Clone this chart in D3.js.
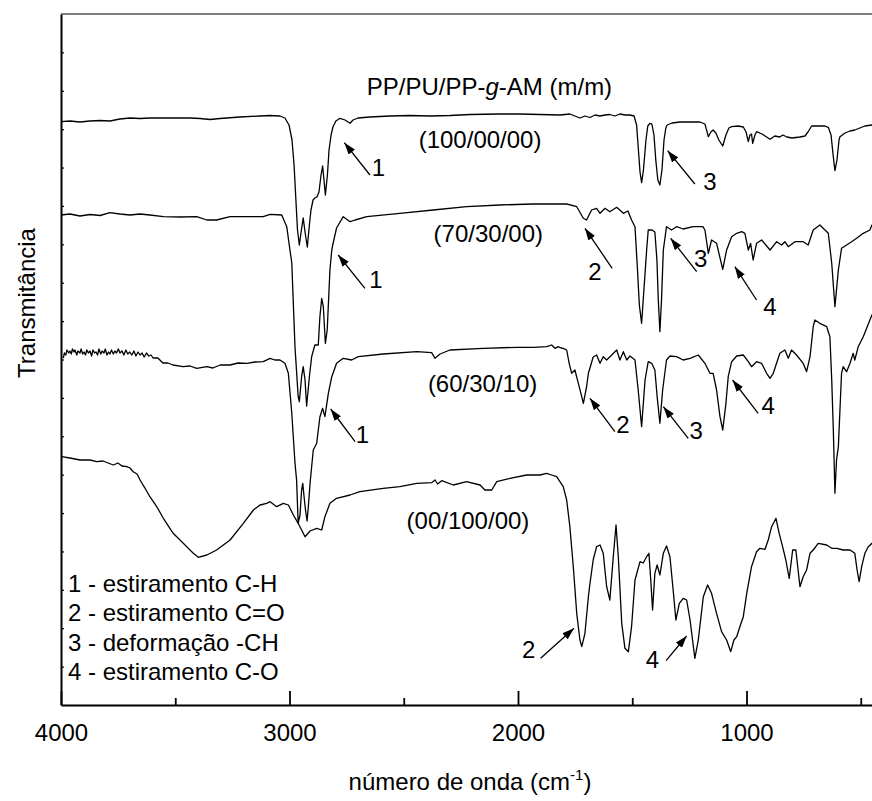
<!DOCTYPE html>
<html>
<head>
<meta charset="utf-8">
<script src="https://cdn.jsdelivr.net/npm/d3@7"></script>
<style>
  body { margin: 0; background: #fff; }
  svg { display: block; font-family: "Liberation Sans", Arial, sans-serif; }
  .spectrum { fill: none; stroke: #000; stroke-width: 1.3; stroke-linejoin: round; }
  .axis path, .axis line { stroke: #000; }
  text { fill: #000; font-size: 24px; }
</style>
</head>
<body>
<svg id="chart"></svg>
<script>
// spectra: [wavenumber (cm-1), transmittance (u.a., stacked)]
const pp100 = [
  [4000,583.3],[3961,584],[3917,583],[3873,584],[3829,584.5],[3786,584],[3742,586],[3698,587],[3654,586.5],
  [3611,587],[3523,587],[3435,587],[3392,586.5],[3348,585.5],[3304,586.5],[3217,588],[3129,589],[3085,589.5],
  [3042,589],[3020,587],[3002,580],[2989,565],[2980,540],[2972,505],[2965,475],[2957,460],[2948,475],[2940,487],
  [2932,473],[2922,458],[2913,480],[2906,495],[2897,505],[2889,507],[2880,508],[2871,513],[2862,530],[2855,539],
  [2849,525],[2843,510],[2834,530],[2827,555],[2818,570],[2810,578],[2797,584],[2779,586.7],[2757,585],[2735,581.7],
  [2722,585],[2700,587],[2648,588],[2560,589],[2473,589.5],[2385,589],[2298,589.5],[2210,590.5],[2079,591],
  [1991,591],[1904,590.5],[1816,590],[1773,591],[1751,589],[1729,587],[1707,589],[1685,587.5],[1663,590],
  [1641,589],[1619,590],[1598,590.5],[1576,589],[1554,591],[1532,590],[1510,590],[1492,589],[1481,580],
  [1473,555],[1466,533],[1459,522.3],[1451,535],[1440,565],[1432,579],[1423,581.7],[1414,581],[1405,570],
  [1397,545],[1388,525],[1379,520],[1370,535],[1361,565],[1353,577],[1347,580],[1326,582],[1291,583],[1247,583],
  [1204,583],[1182,581],[1167,568.3],[1156,573],[1146,575],[1134,572],[1121,565],[1104,559],[1090,570],[1077,577],
  [1065,578.3],[1037,579],[1014,578],[1002,573],[992,563.3],[985,570],[978,571],[973,561.7],[963,570],[956,573.3],
  [932,571],[897,565.7],[876,569],[854,568],[841,570],[823,568],[801,567],[766,568],[744,569],[731,573],[715,579],
  [687,579],[657,579],[642,577.7],[630,570],[621,550],[613,534.3],[604,545],[595,565],[591,568.3],[569,572],
  [547,574],[526,575],[504,577],[482,579],[451,580],[420,581]
];

const pp70 = [
  [4000,490],[3961,491],[3917,489],[3873,490.5],[3829,489.5],[3786,492.3],[3742,491],[3698,490],[3654,491],
  [3611,490],[3552,488.3],[3479,488],[3406,488.3],[3362,485],[3319,485],[3260,488.3],[3173,488.3],[3115,488.3],
  [3085,490.7],[3034,490],[3012,478.3],[2998,455],[2990,442],[2976,358.3],[2962,308.3],[2957,303.3],[2947,328.3],
  [2940,338.3],[2932,325],[2925,299],[2913,328.3],[2903,348.3],[2889,360],[2874,360],[2867,388.3],[2859,406.7],
  [2852,398.3],[2843,361.7],[2835,375],[2827,415],[2823,435],[2815,455],[2808,463],[2794,477],[2765,488.3],
  [2735,483.3],[2713,485],[2662,488.3],[2517,491.7],[2371,495],[2225,498.3],[2079,500],[1933,501],[1787,501],
  [1743,498.3],[1714,486.7],[1700,485],[1678,495],[1656,496.7],[1641,491.7],[1619,496.7],[1598,493.3],
  [1568,497.7],[1539,491.7],[1519,494],[1503,485],[1488,478.3],[1477,435],[1469,400],[1459,381.7],[1449,415],
  [1437,455],[1430,475],[1414,475],[1401,473],[1392,445],[1386,405],[1379,373.3],[1372,405],[1364,455],
  [1350,478.3],[1328,475],[1306,478.3],[1277,476],[1234,478.3],[1191,478.3],[1182,475],[1167,451.7],[1153,465],
  [1131,461.7],[1104,435.7],[1087,455],[1065,468.3],[1043,471.7],[1021,473.3],[1007,471.7],[992,455],[982,461.7],
  [971,445],[956,461.7],[934,465],[897,455],[868,463.3],[846,460],[832,463.3],[817,458.3],[788,463.3],[752,463.3],
  [730,460],[708,475],[679,480],[642,471.7],[627,441.7],[613,398.3],[598,435],[584,456.7],[562,460],[540,463.3],
  [518,466.7],[489,471.7],[460,475],[451,480],[420,484]
];

const pp60 = [
  [3990,347],[3985,352],[3979,350],[3974,355],[3966,352],[3961,354],[3955,351],[3950,356],[3943,353],[3939,355],
  [3931,350],[3926,354],[3917,352],[3912,356],[3905,351],[3899,353],[3893,350],[3887,355],[3880,352],[3873,354],
  [3866,349],[3860,355],[3853,352],[3847,353],[3840,350],[3834,356],[3826,351],[3820,354],[3812,352],[3806,356],
  [3799,350],[3792,353],[3786,351],[3779,355],[3771,351],[3764,354],[3757,352],[3749,356],[3742,352],[3733,354],
  [3725,350],[3716,355],[3708,351],[3699,353],[3690,350],[3681,354],[3672,349],[3663,353],[3654,350],[3645,352],
  [3636,348],[3626,352],[3616,349],[3606,350],[3597,347],[3576,347],[3554,342],[3532,342],[3510,340],[3466,338.3],
  [3435,339],[3406,336.7],[3362,338.3],[3335,337],
  [3304,340],[3260,340],[3225,342],[3187,341.7],[3151,343],[3115,343.3],[3085,346.7],[3064,345],[3042,345],
  [3020,341.7],[3005,331.7],[2990,291.7],[2976,242],[2969,225],[2962,181.7],[2954,190],[2947,215],[2942,221.7],
  [2937,210],[2930,195],[2923,184],[2917,200],[2910,221.7],[2896,255],[2881,261.7],[2874,275],[2867,288],
  [2855,296.7],[2845,288.3],[2830,311.7],[2815,328.3],[2794,341.7],[2765,346.7],[2728,345],[2699,348.3],
  [2590,351],[2443,353.3],[2378,352.3],[2363,346.7],[2352,349],[2341,351],[2298,355],[2152,356.7],[2006,357.7],
  [1933,357.7],[1875,358.3],[1853,360],[1838,356.7],[1824,358.3],[1812,357],[1802,356.7],[1787,355],[1776,341.7],
  [1765,331.7],[1751,335],[1736,321.7],[1721,308.3],[1714,301.7],[1700,318],[1692,331.7],[1685,337],[1671,348],
  [1656,350],[1641,341.7],[1627,348.3],[1612,345],[1590,350],[1568,355],[1554,345],[1539,353.3],[1524,345],
  [1510,349],[1488,345],[1474,315],[1459,278.3],[1444,325],[1430,343.3],[1415,341.7],[1401,335],[1391,308.3],
  [1379,281.7],[1367,315],[1350,345],[1335,349],[1306,348.3],[1277,345],[1247,346.7],[1211,350],[1182,341.7],
  [1160,331.7],[1146,331.7],[1131,315],[1116,288.3],[1104,275],[1090,301.7],[1080,328.3],[1065,343.3],[1043,349],
  [1014,350],[992,343.3],[978,338.3],[956,343.3],[934,341.7],[912,331.7],[897,326.7],[883,331.7],[854,351.7],
  [832,355],[817,346.7],[803,355],[781,350],[752,341.7],[737,333.3],[722,348.3],[708,378.3],[701,385],[679,381.7],
  [649,378.3],[635,368.3],[627,325],[620,275],[613,211.7],[606,245],[598,258.3],[591,295],[584,331.7],[577,338.3],
  [562,333.3],[547,341.7],[533,351.7],[526,345],[511,358.3],[489,368.3],[460,385],[451,390],[420,398]
];

const pu100 = [
  [3997,248.3],[3961,247],[3917,245],[3873,245],[3844,243.3],[3816,244],[3794,242],[3771,240],[3751,242],
  [3733,239],[3712,238.3],[3698,237],[3684,233.3],[3667,231],[3654,225],[3632,216.7],[3611,208.3],[3581,198.3],
  [3552,186.7],[3509,171.7],[3465,161.7],[3421,151.7],[3399,147.7],[3362,150],[3319,155],[3260,165],[3202,181.7],
  [3158,195],[3129,200],[3100,201.7],[3085,203.3],[3056,198.3],[3027,201.7],[3005,200],[2983,190],[2962,181.7],
  [2947,175],[2932,168.3],[2910,174],[2881,176.7],[2859,175],[2845,188.3],[2823,201.7],[2794,206.7],[2735,210],
  [2692,213.3],[2590,216.7],[2517,218.3],[2443,221.7],[2378,222.3],[2363,225],[2352,221],[2334,224.3],[2283,220],
  [2225,223.3],[2166,220],[2145,215],[2115,215],[2093,223.3],[2035,226.7],[1962,230],[1904,230],[1875,231.7],
  [1853,230],[1831,228.3],[1802,218.3],[1787,205],[1773,178.3],[1758,138.3],[1743,91.7],[1729,65],[1721,58.3],
  [1707,71.7],[1692,108.3],[1685,121.7],[1671,145],[1656,158.3],[1641,160],[1627,151.7],[1612,118.3],[1598,105],
  [1583,148.3],[1571,180],[1561,148.3],[1546,81.7],[1532,56.7],[1517,53.3],[1503,78.3],[1488,125],[1466,143.3],
  [1452,142],[1437,148.3],[1427,151.7],[1419,125],[1411,95],[1401,131.7],[1391,140],[1379,130],[1364,151.7],
  [1350,159],[1335,148.3],[1321,115],[1309,85],[1294,101.7],[1277,106.7],[1262,105],[1247,85],[1226,46.7],
  [1211,65],[1189,108.3],[1170,120],[1153,111.7],[1131,91.7],[1109,73.3],[1087,65],[1069,53.3],[1055,65],
  [1043,68.3],[1029,78.3],[1014,88.3],[999,111.7],[978,138.3],[956,153.3],[941,156.7],[919,155.7],[905,165],
  [890,178.3],[871,186.7],[857,171.7],[842,158.3],[828,145],[813,126.7],[798,155],[784,155],[766,118.3],
  [752,128.3],[737,135],[722,151.7],[708,155],[686,161.7],[649,160],[627,156.7],[604,156.7],[577,155],[547,155],
  [526,151.7],[516,135],[507,123.3],[496,138.3],[482,151.7],[467,158.3],[451,161.7],[420,164]
];

const spectra = [pp100, pp70, pp60, pu100];

// sample labels: text, [wavenumber, value] of text centre baseline
const sampleNames = ['(100/00/00)', '(70/30/00)', '(60/30/10)', '(00/100/00)'];
const samplePos = [[2166, 556.7], [2130, 463.3], [2155, 313.3], [2219, 175.7]];

// band arrows: label, tail, tip, label position (all [wavenumber, value])
const bandLabels = ['1', '3', '1', '2', '3', '4', '1', '2', '3', '4', '2', '4'];
const bandTails = [[2648,530],[1226,521],[2670,416.7],[1588,436.7],[1218,433.3],[956,405],
  [2713,263.3],[1576,273.3],[1255,266.7],[949,291.7],[1901,46.7],[1352,44.3]];
const bandTips = [[2760,562.3],[1345,554.3],[2787,450],[1707,476.7],[1332,466.7],[1051,438.3],
  [2820,296],[1685,306.7],[1364,298.3],[1061,325],[1755,76.7],[1262,69]];
const bandTextPos = [[2611,529],[1160,515],[2622,416.7],[1663,425],[1200,438.3],[897,390],
  [2681,261.7],[1541,271.7],[1220,265.7],[905,291],[1953,46.7],[1412,36.7]];

const legendLines = ['1 - estiramento C-H', '2 - estiramento C=O', '3 - deformação -CH', '4 - estiramento C-O'];

const xMajorTicks = [4000, 3000, 2000, 1000];
const xMinorTicks = [3500, 2500, 1500, 500];
const yMax = 691;
const yDivisions = 18;

const width = 872, height = 801;
const margin = { top: 14, left: 61, bottom: 96 };
const plotBottom = height - margin.bottom;

const svg = d3.select('#chart').attr('width', width).attr('height', height);

const x = d3.scaleLinear().domain([4000, 400]).range([margin.left, margin.left + 3600 * 0.2285]);
const y = d3.scaleLinear().domain([0, yMax]).range([plotBottom, margin.top]);

const defs = svg.append('defs');
defs.append('clipPath').attr('id', 'plotClip')
  .append('rect').attr('x', margin.left).attr('y', margin.top)
  .attr('width', x(400) - margin.left).attr('height', plotBottom - margin.top);
defs.append('marker').attr('id', 'head')
  .attr('viewBox', '0 0 12 8').attr('refX', 12).attr('refY', 4)
  .attr('markerWidth', 12).attr('markerHeight', 8)
  .attr('markerUnits', 'userSpaceOnUse').attr('orient', 'auto')
  .append('path').attr('d', 'M0,0L12,4L0,8Z').attr('fill', '#000');

// top frame line
svg.append('line')
  .attr('x1', margin.left).attr('x2', width)
  .attr('y1', y(yMax)).attr('y2', y(yMax))
  .attr('stroke', '#000').attr('stroke-width', 1);

// axes
const xAxis = d3.axisBottom(x).tickValues(xMajorTicks).tickSize(-14).tickSizeOuter(0)
  .tickPadding(19).tickFormat(d3.format('d'));
const xAxisG = svg.append('g').attr('class', 'axis').attr('transform', `translate(0,${plotBottom})`).call(xAxis);
xAxisG.select('.domain').attr('stroke-width', 2);
xAxisG.selectAll('.tick line').attr('stroke-width', 1.8);
xAxisG.selectAll('text').attr('font-size', 24).attr('font-family', '"Liberation Sans", Arial, sans-serif');

const xMinor = d3.axisBottom(x).tickValues(xMinorTicks).tickSize(-7).tickFormat('');
const xMinorG = svg.append('g').attr('class', 'axis').attr('transform', `translate(0,${plotBottom})`).call(xMinor);
xMinorG.select('.domain').remove();
xMinorG.selectAll('.tick line').attr('stroke-width', 1.8);

const yTicks = d3.range(1, yDivisions).map(i => i * yMax / yDivisions);
const yAxis = d3.axisLeft(y).tickValues(yTicks).tickSize(-3).tickSizeOuter(0).tickFormat('');
const yAxisG = svg.append('g').attr('class', 'axis').attr('transform', `translate(${margin.left},0)`).call(yAxis);
yAxisG.select('.domain').attr('stroke-width', 2);
yAxisG.selectAll('.tick line').attr('stroke-width', 1.2);

// spectra
const line = d3.line().x(d => x(d[0])).y(d => y(d[1]));
svg.append('g').attr('clip-path', 'url(#plotClip)')
  .selectAll('path').data(spectra).join('path')
  .attr('class', 'spectrum').attr('d', line);

// title
const title = svg.append('text').attr('x', x(2125)).attr('y', y(610)).attr('text-anchor', 'middle');
title.append('tspan').text('PP/PU/PP-');
title.append('tspan').attr('font-style', 'italic').text('g');
title.append('tspan').text('-AM (m/m)');

// sample names
svg.append('g').selectAll('text').data(sampleNames).join('text')
  .attr('x', (d, i) => x(samplePos[i][0])).attr('y', (d, i) => y(samplePos[i][1]))
  .attr('text-anchor', 'middle').text(d => d);

// band arrows
const arrows = svg.append('g');
arrows.selectAll('line').data(bandLabels).join('line')
  .attr('x1', (d, i) => x(bandTails[i][0])).attr('y1', (d, i) => y(bandTails[i][1]))
  .attr('x2', (d, i) => x(bandTips[i][0])).attr('y2', (d, i) => y(bandTips[i][1]))
  .attr('stroke', '#000').attr('stroke-width', 1.3).attr('marker-end', 'url(#head)');
arrows.selectAll('text').data(bandLabels).join('text')
  .attr('x', (d, i) => x(bandTextPos[i][0])).attr('y', (d, i) => y(bandTextPos[i][1]))
  .attr('text-anchor', 'middle').text(d => d);

// legend
svg.append('g').selectAll('text').data(legendLines).join('text')
  .attr('x', margin.left + 7).attr('y', (d, i) => plotBottom - 113.3 + i * 29.4)
  .text(d => d);

// axis titles
const xTitle = svg.append('text').attr('x', 470).attr('y', 790).attr('text-anchor', 'middle');
xTitle.append('tspan').text('número de onda (cm');
xTitle.append('tspan').attr('font-size', 15).attr('dy', -10).text('-1');
xTitle.append('tspan').attr('dy', 10).text(')');

svg.append('text')
  .attr('transform', `translate(35,${y(402)}) rotate(-90)`)
  .attr('text-anchor', 'middle').attr('font-size', 26).text('Transmitância');
</script>
</body>
</html>
